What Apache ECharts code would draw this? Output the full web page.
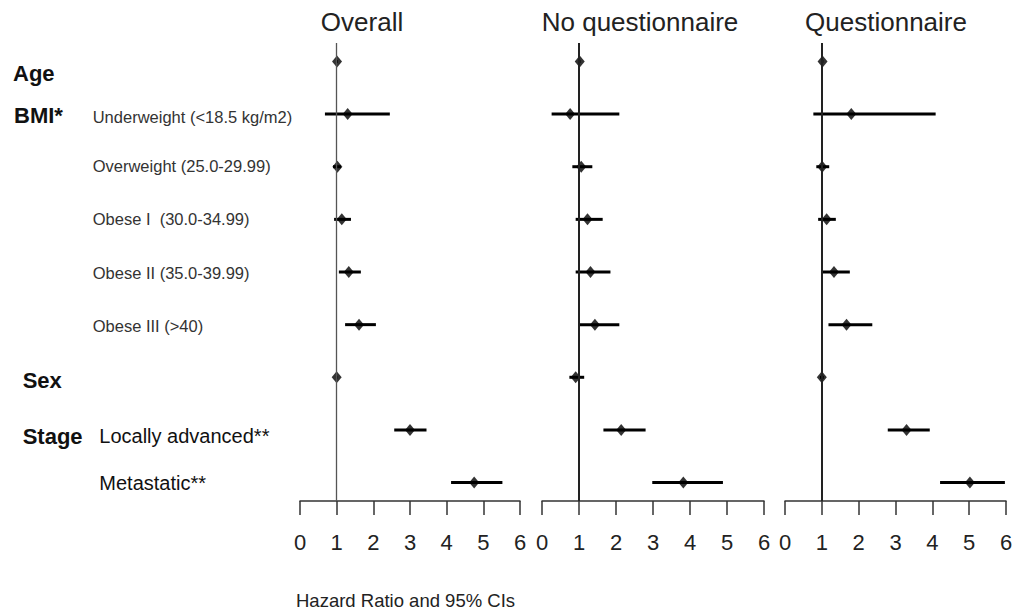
<!DOCTYPE html>
<html><head><meta charset="utf-8">
<script src="https://cdn.jsdelivr.net/npm/echarts@6/dist/echarts.min.js"></script>
<style>html,body{margin:0;padding:0;background:#fff}#c{width:1018px;height:616px}</style>
</head><body><div id="c"></div>
<script>
// ---- data ----
const categories = ['Age','Underweight','Overweight','Obese I','Obese II','Obese III','Sex','Locally advanced','Metastatic'];
const xTicks = [0,1,2,3,4,5,6];
const panelTitles = ['Overall','No questionnaire','Questionnaire'];

const overallHR = [1.01, 1.30, 1.02, 1.14, 1.33, 1.61, 1.00, 3.00, 4.75];
const overallLo = [0.99, 0.68, 0.90, 0.93, 1.06, 1.23, 0.98, 2.57, 4.12];
const overallHi = [1.03, 2.45, 1.12, 1.39, 1.66, 2.07, 1.02, 3.45, 5.52];

const noQHR = [1.02, 0.76, 1.06, 1.23, 1.31, 1.43, 0.91, 2.14, 3.82];
const noQLo = [1.00, 0.26, 0.82, 0.91, 0.91, 1.01, 0.74, 1.66, 2.98];
const noQHi = [1.04, 2.09, 1.36, 1.64, 1.85, 2.09, 1.14, 2.80, 4.89];

const qHR = [1.02, 1.80, 1.01, 1.13, 1.33, 1.67, 1.00, 3.30, 5.02];
const qLo = [1.00, 0.77, 0.85, 0.90, 1.01, 1.18, 0.95, 2.79, 4.21];
const qHi = [1.04, 4.09, 1.20, 1.38, 1.76, 2.37, 1.05, 3.93, 5.97];

const groupLabels = [
  {text:'Age', x:13, y:73.5},
  {text:'BMI*', x:14, y:115.5},
  {text:'Sex', x:22.7, y:380},
  {text:'Stage', x:22.7, y:436}
];
const subLabels = [
  {text:'Underweight (<18.5 kg/m2)', x:92.7, y:116.5},
  {text:'Overweight (25.0-29.99)', x:92.7, y:166},
  {text:'Obese I\u00a0 (30.0-34.99)', x:92.7, y:219},
  {text:'Obese II (35.0-39.99)', x:92.7, y:273},
  {text:'Obese III (>40)', x:92.7, y:326}
];
const stageLabels = [
  {text:'Locally advanced**', x:99.3, y:436},
  {text:'Metastatic**', x:99.3, y:482.5}
];
const xAxisName = 'Hazard Ratio and 95% CIs';

// ---- layout ----
const FONT = '"Liberation Sans", Arial, sans-serif';
const panels = [
  {hr:overallHR, lo:overallLo, hi:overallHi, left:300, width:220, tx:362, refColor:'#555', refW:1.3},
  {hr:noQHR, lo:noQLo, hi:noQHi, left:542, width:222, tx:640, refColor:'#222', refW:2},
  {hr:qHR, lo:qLo, hi:qHi, left:785, width:221, tx:886, refColor:'#222', refW:2}
];

const chart = echarts.init(document.getElementById('c'), null, {renderer:'svg'});
const grids=[], xAxes=[], yAxes=[], series=[];
const graphics = [];
panels.forEach((p,k)=>{
  grids.push({left:p.left, width:p.width, top:43, height:458, containLabel:false});
  xAxes.push({
    type:'value', gridIndex:k, min:xTicks[0], max:xTicks[xTicks.length-1], interval:1,
    axisLine:{show:true, onZero:false, lineStyle:{color:'#333', width:1.5}},
    axisTick:{show:true, length:14, inside:false, lineStyle:{color:'#333', width:1.5}},
    axisLabel:{margin:30, fontSize:22, color:'#222', fontFamily:FONT, showMinLabel:true, showMaxLabel:true},
    splitLine:{show:false}
  });
  yAxes.push({type:'value', gridIndex:k, min:-0.35, max:8.35, inverse:true, show:false});
  graphics.push({type:'text', x:p.tx, y:22, style:{text:panelTitles[k], fill:'#222', font:'26px '+FONT, verticalAlign:'middle', align:'center'}});
  series.push({
    type:'custom', xAxisIndex:k, yAxisIndex:k, silent:true, z:2,
    data: categories.map((c,i)=>[p.lo[i], p.hi[i], i]),
    encode:{x:[0,1], y:2},
    renderItem:(params, api)=>{
      const a = api.coord([api.value(0), api.value(2)]);
      const b = api.coord([api.value(1), api.value(2)]);
      return {type:'line', shape:{x1:a[0], y1:a[1], x2:b[0], y2:b[1]}, style:{stroke:'#000', lineWidth:3}};
    },
    markLine:{silent:true, symbol:'none', animation:false, label:{show:false},
      lineStyle:{color:p.refColor, width:p.refW, type:'solid'}, data:[{xAxis:1}]}
  });
  series.push({
    type:'scatter', xAxisIndex:k, yAxisIndex:k, silent:true, z:3,
    data: categories.map((c,i)=>[p.hr[i], i]),
    symbol:'diamond', symbolSize:[10,12], itemStyle:{color:'#000'}
  });
});

groupLabels.forEach(l=>graphics.push({type:'text', x:l.x, y:l.y, style:{text:l.text, fill:'#111', font:'bold 22px '+FONT, verticalAlign:'middle', align:'left'}}));
subLabels.forEach(l=>graphics.push({type:'text', x:l.x, y:l.y, style:{text:l.text, fill:'#333', font:'16.5px '+FONT, verticalAlign:'middle', align:'left'}}));
stageLabels.forEach(l=>graphics.push({type:'text', x:l.x, y:l.y, style:{text:l.text, fill:'#111', font:'20px '+FONT, verticalAlign:'middle', align:'left'}}));
graphics.push({type:'text', x:296, y:600.5, style:{text:xAxisName, fill:'#222', font:'18.5px '+FONT, verticalAlign:'middle', align:'left'}});

chart.setOption({
  animation:false,
  backgroundColor:'#fff',
  grid:grids, xAxis:xAxes, yAxis:yAxes, series:series,
  graphic:graphics
});
</script></body></html>
